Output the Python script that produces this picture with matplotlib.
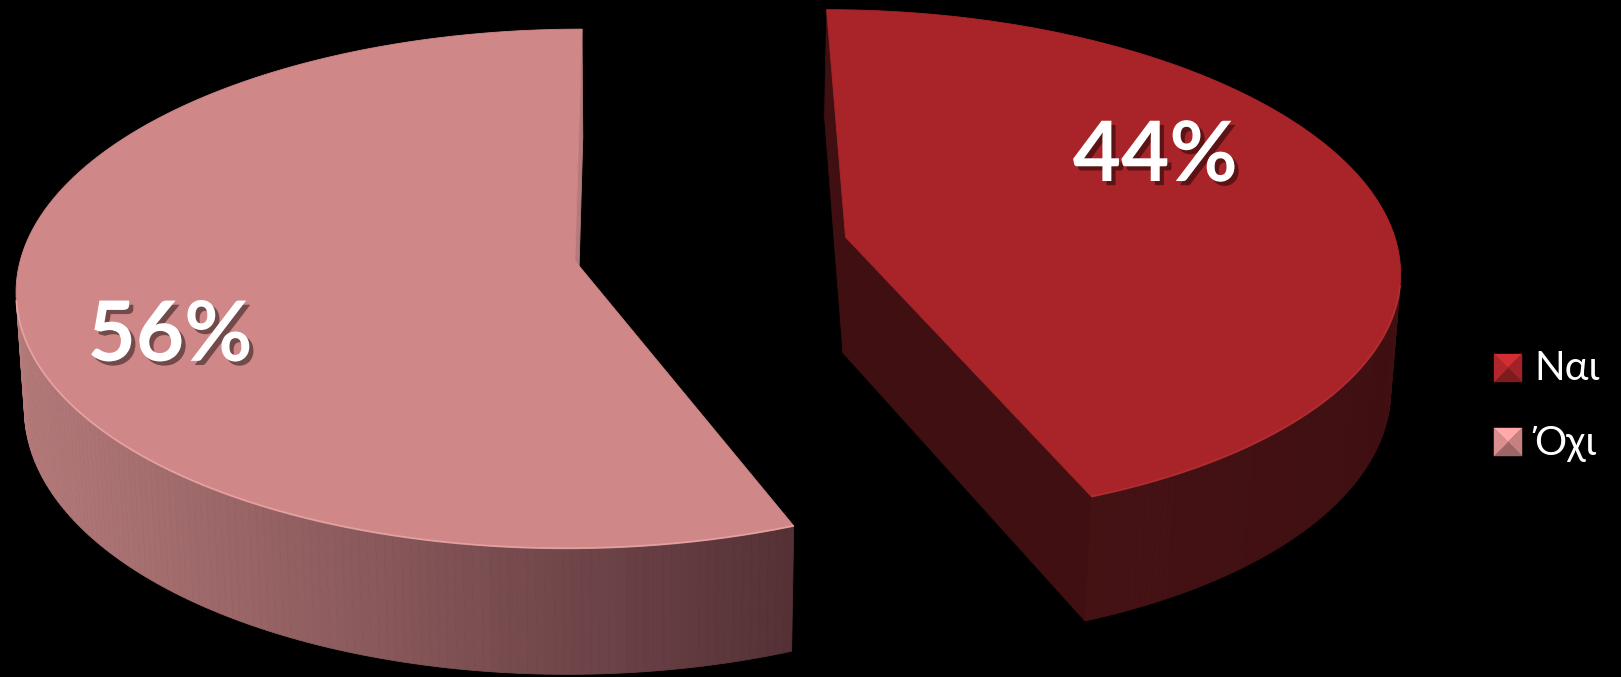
import numpy as np
import matplotlib.pyplot as plt
from matplotlib.patches import Polygon
import matplotlib.patheffects as pe

labels = ['Ναι', 'Όχι']
values = [44, 56]
top_colors = ['#a82428', '#d08788']
rim_colors = ['#b83034', '#eda9a8']
wall_left = [(0.27, 0.07, 0.08), (0.71, 0.48, 0.48)]
wall_right = [(0.25, 0.06, 0.07), (0.33, 0.19, 0.21)]

# perspective camera (pixel space)
f = 4610.0
D = 8.35
el = np.radians(27.4)
u0, v0 = 648.0, 249.0
cam_x = -0.114
h = 0.24
explode = 0.25

# label placement: radius and angular nudge from the slice bisector
label_r = [0.68, 0.76]
label_turn = [18, 11.5]

cam = np.array([cam_x, -D * np.cos(el), D * np.sin(el)])


def project(X, Y, Z):
    X, Y, Z = np.asarray(X, float), np.asarray(Y, float), np.asarray(Z, float)
    xc = X - cam_x
    yc = Y * np.sin(el) + Z * np.cos(el)
    zc = D + Y * np.cos(el) - Z * np.sin(el)
    return u0 + f * xc / zc, v0 - f * yc / zc


def visible(point, normal):
    return np.dot(normal, cam - np.asarray(point)) > 0


def face(ax, pts3, color):
    u, v = project(*np.array(pts3).T)
    ax.add_patch(Polygon(np.column_stack([u, v]), closed=True, fc=color,
                         ec=color, lw=0.6))


fig = plt.figure(figsize=(16.21, 6.77), dpi=100, facecolor='black')
ax = fig.add_axes([0, 0, 1, 1])
ax.set_facecolor('black')
ax.set_xlim(0, 1621)
ax.set_ylim(677, 0)
ax.axis('off')

frac = np.array(values) / sum(values)
ends = 90 - 360 * np.cumsum(frac)
starts = ends + 360 * frac
mids = (starts + ends) / 2
centers = [explode * np.array([np.cos(np.radians(m)), np.sin(np.radians(m))])
           for m in mids]

# back slices first
order = sorted(range(len(values)), key=lambda i: -centers[i][1])
for i in order:
    cx, cy = centers[i]
    a0, a1 = np.radians(ends[i]), np.radians(starts[i])
    ts = np.linspace(a0, a1, 240)

    # radial faces
    for a, sgn in ((a0, -1), (a1, 1)):
        n = np.array([np.cos(a + sgn * np.pi / 2), np.sin(a + sgn * np.pi / 2), 0])
        rim = (cx + np.cos(a), cy + np.sin(a))
        if visible((cx, cy, -h / 2), n):
            face(ax, [(cx, cy, 0), (rim[0], rim[1], 0), (rim[0], rim[1], -h),
                      (cx, cy, -h)], wall_right[i] if i == 0 else wall_left[i])

    # outer wall, split into strips
    strips = []
    for t0, t1 in zip(ts[:-1], ts[1:]):
        tm = (t0 + t1) / 2
        n = np.array([np.cos(tm), np.sin(tm), 0])
        if visible((cx + np.cos(tm), cy + np.sin(tm), -h / 2), n):
            strips.append((t0, t1))
    if strips:
        us = [project(cx + np.cos(t), cy + np.sin(t), 0)[0] for s in strips for t in s]
        umin, umax = min(us), max(us)
        for t0, t1 in strips:
            um = project(cx + np.cos((t0 + t1) / 2), cy + np.sin((t0 + t1) / 2), 0)[0]
            k = (um - umin) / max(umax - umin, 1)
            col = tuple(np.array(wall_left[i]) * (1 - k) + np.array(wall_right[i]) * k)
            face(ax, [(cx + np.cos(t0), cy + np.sin(t0), 0),
                      (cx + np.cos(t1), cy + np.sin(t1), 0),
                      (cx + np.cos(t1), cy + np.sin(t1), -h),
                      (cx + np.cos(t0), cy + np.sin(t0), -h)], col)

    # top face
    pts = [(cx, cy, 0)] + [(cx + np.cos(t), cy + np.sin(t), 0) for t in ts]
    face(ax, pts, top_colors[i])

    # soft highlight along the front rim
    if strips:
        rt = np.linspace(strips[0][0], strips[-1][1], 200)
        ru, rv = project(cx + np.cos(rt), cy + np.sin(rt), np.zeros_like(rt))
        ax.plot(ru, rv, color=rim_colors[i], lw=1.3, alpha=0.8,
                solid_capstyle='butt')

    # percentage label
    la = np.radians(mids[i] + label_turn[i])
    lu, lv = project(cx + label_r[i] * np.cos(la), cy + label_r[i] * np.sin(la), 0)
    ax.text(lu, lv, f'{values[i]}%', color='white', fontsize=60,
            fontweight='bold', family='Lato', ha='center', va='center',
            path_effects=[pe.withSimplePatchShadow(offset=(3, -3),
                                                    shadow_rgbFace='black',
                                                    alpha=0.45)])

# legend with bevelled swatches
leg_x, leg_y0, leg_dy, sw = 1494, 354, 74, 28
for i, lab in enumerate(labels):
    x0, y0 = leg_x, leg_y0 + i * leg_dy
    base = np.array(plt.matplotlib.colors.to_rgb(top_colors[i]))
    c = (x0 + sw / 2, y0 + sw / 2)
    corners = [(x0, y0), (x0 + sw, y0), (x0 + sw, y0 + sw), (x0, y0 + sw)]
    shades = [1.25, 0.95, 0.75, 1.05]
    for j in range(4):
        col = np.clip(base * shades[j], 0, 1)
        ax.add_patch(Polygon([corners[j], corners[(j + 1) % 4], c], closed=True,
                             fc=col, ec=col, lw=0.3))
    ax.text(x0 + sw + 12, y0 + sw / 2 + 1, lab, color='white', fontsize=29,
            family='Lato', ha='left', va='center')

fig.savefig('out.png', dpi=100, facecolor='black')
